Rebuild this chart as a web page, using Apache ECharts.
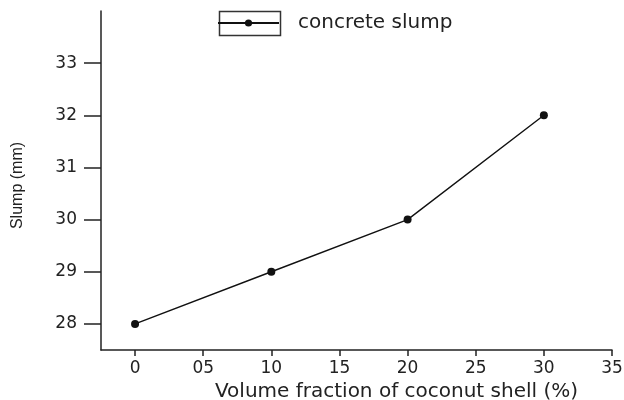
<!DOCTYPE html>
<html>
<head>
<meta charset="utf-8">
<script src="https://cdn.jsdelivr.net/npm/echarts@6/dist/echarts.min.js"></script>
<style>
    html, body { margin: 0; padding: 0; background: #fff; }
    #main { width: 624px; height: 400px; }
</style>
</head>
<body>
<div id="main"></div>
<script>
// data
const fractions = [0, 10, 20, 30]
const slumps = [28, 29, 30, 32]
const xTicks = [0, 5, 10, 15, 20, 25, 30, 35]
const xTickLabels = ['0', '05', '10', '15', '20', '25', '30', '35']
const yTicks = [28, 29, 30, 31, 32, 33]

const ink = '#222'

const myChart = echarts.init(document.getElementById('main'), null, { renderer: 'canvas' })

const option = {
    animation: false,
    backgroundColor: '#fff',
    // fixed plot box, labels are allowed to sit outside it
    grid: { left: 101, right: 12, top: 11, bottom: 50, outerBoundsMode: 'none', containLabel: false },
    legend: {
        data: ['concrete slump'],
        left: 217,
        top: 13,
        padding: 0,
        itemWidth: 61,
        itemHeight: 9,
        textStyle: {
            fontFamily: 'DejaVu Sans',
            fontSize: 20,
            color: ink,
            padding: [0, 0, 0, 14]
        }
    },
    // frame round the legend symbol
    graphic: [{
        type: 'rect',
        left: 217,
        top: 9,
        shape: { width: 61, height: 24 },
        style: { fill: 'none', stroke: '#333', lineWidth: 1.5 }
    }],
    xAxis: {
        type: 'value',
        min: -2.5,
        max: 35,
        name: 'Volume fraction of coconut shell (%)',
        nameLocation: 'middle',
        nameGap: 15,
        nameTextStyle: {
            fontFamily: 'DejaVu Sans',
            fontSize: 20,
            color: ink,
            padding: [0, 0, 0, 80]
        },
        splitLine: { show: false },
        axisLine: { lineStyle: { color: ink, width: 1.5 } },
        axisTick: { length: 6, customValues: xTicks, lineStyle: { color: ink, width: 1.5 } },
        axisLabel: {
            customValues: xTicks,
            margin: 10,
            fontFamily: 'DejaVu Sans',
            fontSize: 17,
            color: ink,
            formatter: v => xTickLabels[xTicks.indexOf(v)]
        }
    },
    yAxis: {
        type: 'value',
        min: 27.5,
        max: 34,
        name: 'Slump (mm)',
        nameLocation: 'middle',
        nameGap: 75,
        nameTextStyle: {
            fontFamily: 'Liberation Sans',
            fontSize: 16,
            color: ink,
            padding: [0, 10, 0, 0]
        },
        splitLine: { show: false },
        axisLine: { show: true, onZero: false, lineStyle: { color: ink, width: 1.5 } },
        axisTick: { show: true, length: 17, customValues: yTicks, lineStyle: { color: ink, width: 1.5 } },
        axisLabel: {
            customValues: yTicks,
            margin: 24,
            fontFamily: 'DejaVu Sans',
            fontSize: 17,
            color: ink
        }
    },
    series: [{
        name: 'concrete slump',
        type: 'line',
        data: fractions.map((x, i) => [x, slumps[i]]),
        symbol: 'circle',
        symbolSize: 8,
        lineStyle: { color: '#111', width: 1.4 },
        itemStyle: { color: '#111' }
    }]
}

myChart.setOption(option)
</script>
</body>
</html>
